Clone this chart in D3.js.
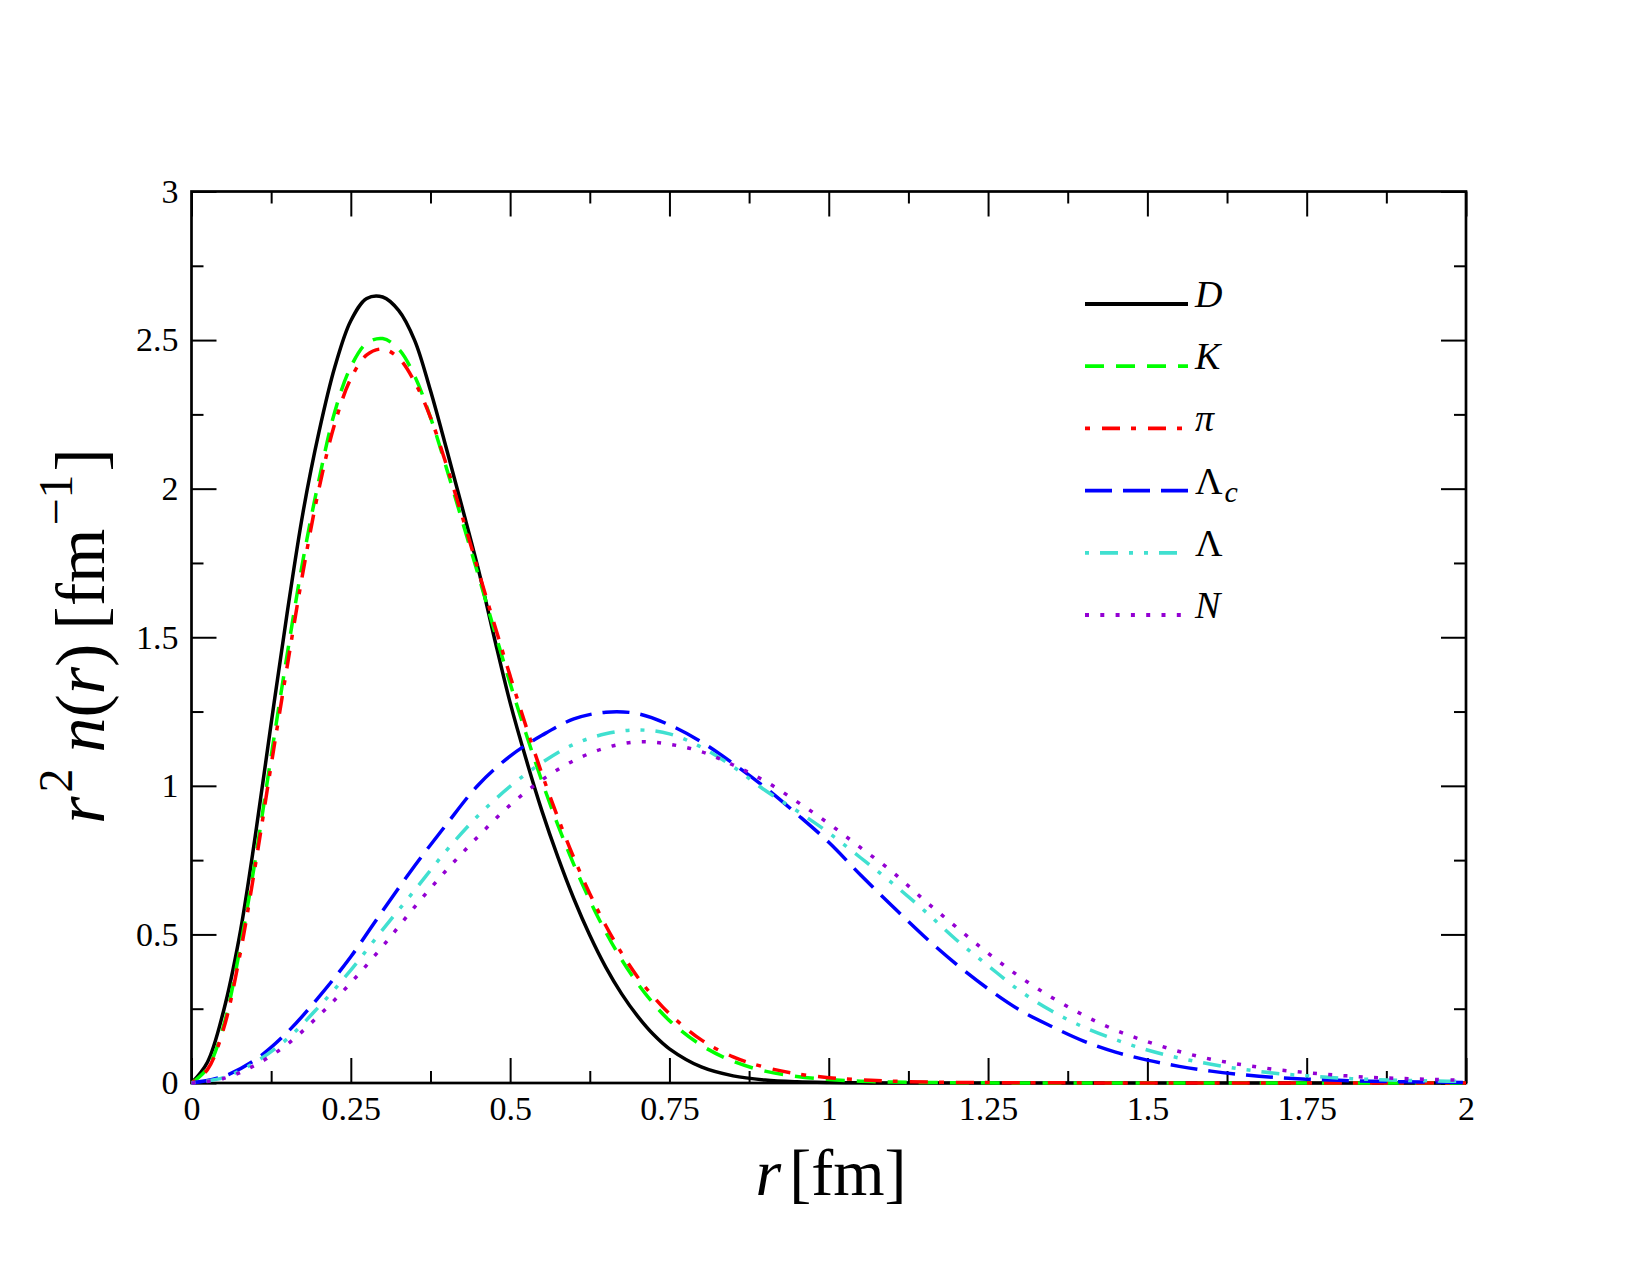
<!DOCTYPE html>
<html>
<head>
<meta charset="utf-8">
<script src="https://cdn.jsdelivr.net/npm/d3@7"></script>
<style>
body { margin: 0; background: #fff; }
svg { display: block; }
.tick text { font-family: "Liberation Serif", "Times New Roman", serif; font-size: 34px; fill: #000; }
.serif { font-family: "Liberation Serif", "Times New Roman", serif; fill: #000; }
</style>
</head>
<body>
<svg id="chart" width="1650" height="1275"></svg>
<script>
// radius grid for the meson curves (fm)
const rMeson = [0, 0.025, 0.05, 0.075, 0.1, 0.125, 0.15, 0.175, 0.2, 0.225, 0.25, 0.275, 0.3, 0.325,
    0.35, 0.375, 0.4, 0.425, 0.45, 0.475, 0.5, 0.525, 0.55, 0.575, 0.6, 0.625, 0.65, 0.675, 0.7, 0.725,
    0.75, 0.8, 0.85, 0.9, 0.95, 1.0, 1.05, 1.1, 1.2, 1.3, 1.5, 2.0];
const nD = [0, 0.07, 0.24, 0.49, 0.83, 1.21, 1.58, 1.92, 2.19, 2.41, 2.565, 2.64, 2.645, 2.60,
    2.50, 2.33, 2.135, 1.935, 1.73, 1.50, 1.28, 1.09, 0.915, 0.76, 0.62, 0.497, 0.39, 0.30, 0.225, 0.163,
    0.115, 0.054, 0.024, 0.010, 0.004, 0.0015, 0.0005, 0, 0, 0, 0, 0];
const nK = [0, 0.05, 0.19, 0.44, 0.75, 1.10, 1.44, 1.76, 2.03, 2.26, 2.41, 2.49, 2.505, 2.47,
    2.38, 2.24, 2.07, 1.89, 1.71, 1.525, 1.345, 1.175, 1.015, 0.868, 0.735, 0.615, 0.508, 0.415, 0.335, 0.267,
    0.21, 0.127, 0.073, 0.040, 0.022, 0.012, 0.006, 0.003, 0.001, 0, 0, 0];
const nPi = [0, 0.045, 0.18, 0.42, 0.73, 1.07, 1.40, 1.72, 2.00, 2.22, 2.37, 2.45, 2.47, 2.44,
    2.36, 2.24, 2.08, 1.905, 1.725, 1.545, 1.37, 1.20, 1.04, 0.893, 0.758, 0.637, 0.53, 0.437, 0.357, 0.29,
    0.233, 0.145, 0.088, 0.053, 0.031, 0.018, 0.011, 0.006, 0.002, 0.001, 0, 0];

// radius grid for the baryon curves (fm)
const rBaryon = [0, 0.05, 0.1, 0.15, 0.2, 0.25, 0.3, 0.35, 0.4, 0.45, 0.5, 0.55, 0.6, 0.65, 0.7,
    0.75, 0.8, 0.85, 0.9, 0.95, 1.0, 1.05, 1.1, 1.15, 1.2, 1.25, 1.3, 1.35, 1.4, 1.45, 1.5, 1.55,
    1.6, 1.65, 1.7, 1.75, 1.8, 1.85, 1.9, 1.95, 2.0];
const nLc = [0, 0.022, 0.078, 0.17, 0.29, 0.425, 0.58, 0.73, 0.87, 1.003, 1.10, 1.17, 1.225, 1.248, 1.243,
    1.205, 1.148, 1.075, 0.995, 0.905, 0.81, 0.70, 0.595, 0.493, 0.40, 0.317, 0.245, 0.19, 0.141, 0.104, 0.077, 0.056,
    0.040, 0.028, 0.019, 0.013, 0.009, 0.006, 0.004, 0.003, 0.002];
const nL = [0, 0.018, 0.07, 0.148, 0.257, 0.38, 0.516, 0.648, 0.782, 0.9, 0.998, 1.078, 1.14, 1.175, 1.188,
    1.175, 1.13, 1.064, 0.985, 0.916, 0.842, 0.758, 0.672, 0.58, 0.482, 0.395, 0.31, 0.242, 0.188, 0.146, 0.111, 0.084,
    0.063, 0.046, 0.033, 0.024, 0.017, 0.012, 0.009, 0.007, 0.005];
const nN = [0, 0.015, 0.06, 0.13, 0.227, 0.337, 0.46, 0.592, 0.716, 0.83, 0.935, 1.02, 1.085, 1.128, 1.148,
    1.14, 1.115, 1.07, 1.016, 0.947, 0.873, 0.792, 0.71, 0.615, 0.525, 0.437, 0.357, 0.288, 0.228, 0.178, 0.139, 0.106,
    0.08, 0.061, 0.046, 0.035, 0.026, 0.019, 0.015, 0.012, 0.009];

const xMajor = [0, 0.25, 0.5, 0.75, 1, 1.25, 1.5, 1.75, 2];
const xMajorLabels = ["0", "0.25", "0.5", "0.75", "1", "1.25", "1.5", "1.75", "2"];
const xMinor = [0.125, 0.375, 0.625, 0.875, 1.125, 1.375, 1.625, 1.875];
const yMajor = [0, 0.5, 1, 1.5, 2, 2.5, 3];
const yMajorLabels = ["0", "0.5", "1", "1.5", "2", "2.5", "3"];
const yMinor = [0.25, 0.75, 1.25, 1.75, 2.25, 2.75];

const legendNames = ["D", "K", "π", "Λ", "Λ", "N"];
const legendSubs = ["", "", "", "c", "", ""];

const styles = [
    { color: "#000000", dash: null, offset: 0, italic: true },
    { color: "#00ff00", dash: "19,12", offset: 0, italic: true },
    { color: "#ff0000", dash: "5,12,18,11", offset: 0, italic: true },
    { color: "#0000ff", dash: "27,11", offset: 0, italic: false },
    { color: "#40e0d0", dash: "18,11,4,11,4,11", offset: 44, italic: false },
    { color: "#9400d3", dash: "4,11.3", offset: 0, italic: true }
];

const curves = [
    { r: rMeson, v: nD },
    { r: rMeson, v: nK },
    { r: rMeson, v: nPi },
    { r: rBaryon, v: nLc },
    { r: rBaryon, v: nL },
    { r: rBaryon, v: nN }
];

const svg = d3.select("#chart");
const margin = { top: 191.5, right: 184, bottom: 192, left: 191.5 };
const width = 1650 - margin.left - margin.right;
const height = 1275 - margin.top - margin.bottom;

const x = d3.scaleLinear().domain([0, 2]).range([0, width]);
const y = d3.scaleLinear().domain([0, 3]).range([height, 0]);

const g = svg.append("g").attr("transform", `translate(${margin.left},${margin.top})`);

// frame
g.append("rect")
    .attr("width", width)
    .attr("height", height)
    .attr("fill", "none")
    .attr("stroke", "#000")
    .attr("stroke-width", 2.7);

function styleAxis(sel) {
    sel.select(".domain").remove();
    sel.selectAll(".tick line").attr("stroke", "#000").attr("stroke-width", 2);
}

// major ticks with labels
g.append("g").attr("transform", `translate(0,${height})`)
    .call(d3.axisBottom(x).tickValues(xMajor).tickSize(-25).tickPadding(13)
        .tickFormat((d, i) => xMajorLabels[i]))
    .call(styleAxis);
g.append("g")
    .call(d3.axisLeft(y).tickValues(yMajor).tickSize(-25).tickPadding(13)
        .tickFormat((d, i) => yMajorLabels[i]))
    .call(styleAxis);
// mirror ticks
g.append("g").call(d3.axisTop(x).tickValues(xMajor).tickSize(-25).tickFormat("")).call(styleAxis);
g.append("g").attr("transform", `translate(${width},0)`)
    .call(d3.axisRight(y).tickValues(yMajor).tickSize(-25).tickFormat("")).call(styleAxis);
// minor ticks
g.append("g").attr("transform", `translate(0,${height})`)
    .call(d3.axisBottom(x).tickValues(xMinor).tickSize(-12).tickFormat("")).call(styleAxis);
g.append("g").call(d3.axisTop(x).tickValues(xMinor).tickSize(-12).tickFormat("")).call(styleAxis);
g.append("g").call(d3.axisLeft(y).tickValues(yMinor).tickSize(-12).tickFormat("")).call(styleAxis);
g.append("g").attr("transform", `translate(${width},0)`)
    .call(d3.axisRight(y).tickValues(yMinor).tickSize(-12).tickFormat("")).call(styleAxis);

// curves
const line = d3.line().curve(d3.curveCatmullRom.alpha(0.5));
curves.forEach((c, i) => {
    const s = styles[i];
    g.append("path")
        .datum(c.r.map((r, j) => [x(r), y(c.v[j])]))
        .attr("d", line)
        .attr("fill", "none")
        .attr("stroke", s.color)
        .attr("stroke-width", 3.5)
        .attr("stroke-dasharray", s.dash)
        .attr("stroke-dashoffset", s.offset);
});

// legend
const legend = svg.append("g").attr("transform", "translate(1085,304)");
legendNames.forEach((name, i) => {
    const s = styles[i];
    const row = legend.append("g").attr("transform", `translate(0,${i * 62.2})`);
    row.append("line")
        .attr("x1", 0).attr("x2", 103)
        .attr("stroke", s.color)
        .attr("stroke-width", 3.8)
        .attr("stroke-dasharray", s.dash)
        .attr("stroke-dashoffset", s.offset);
    const t = row.append("text")
        .attr("class", "serif")
        .attr("x", 110).attr("y", 3)
        .attr("font-size", 38);
    t.append("tspan").attr("font-style", s.italic ? "italic" : "normal").text(name);
    if (legendSubs[i]) {
        t.append("tspan").attr("font-style", "italic").attr("font-size", 30).attr("dx", 2).attr("dy", 8).text(legendSubs[i]);
    }
});

// x title
const xt = svg.append("text")
    .attr("class", "serif")
    .attr("x", 831)
    .attr("y", 1195)
    .attr("text-anchor", "middle")
    .attr("font-size", 66);
xt.append("tspan").attr("font-style", "italic").text("r");
xt.append("tspan").attr("dx", 8).text("[fm]");

// y title
const yt = svg.append("text")
    .attr("class", "serif")
    .attr("transform", "translate(104,636) rotate(-90)")
    .attr("text-anchor", "middle")
    .attr("font-size", 70);
yt.append("tspan").attr("font-style", "italic").text("r");
yt.append("tspan").attr("font-size", 48).attr("dy", -32).attr("dx", 4).text("2");
yt.append("tspan").attr("font-style", "italic").attr("dy", 32).attr("dx", 16).text("n");
yt.append("tspan").text("(");
yt.append("tspan").attr("font-style", "italic").text("r");
yt.append("tspan").text(")");
yt.append("tspan").attr("dx", 14).text("[fm");
yt.append("tspan").attr("font-size", 48).attr("dy", -32).attr("dx", 3).text("−1");
yt.append("tspan").attr("dy", 32).attr("dx", 3).text("]");
</script>
</body>
</html>
